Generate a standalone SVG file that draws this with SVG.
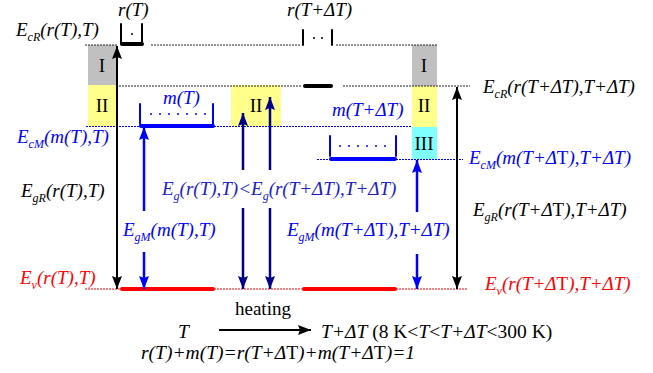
<svg xmlns="http://www.w3.org/2000/svg" width="653" height="373" viewBox="0 0 653 373">
<style>
text{font-family:"Liberation Serif","Times New Roman",serif;font-size:19px;font-style:italic}
.rm{font-style:normal}
.sub{font-size:12px}
.big{font-size:19.5px}
.k{fill:#000}
.b{fill:#0000ff}
.nv{fill:#1c1cc8}
.r{fill:#ff0000}
.dk{stroke:#222;stroke-width:1;stroke-dasharray:2 1;fill:none}
.db{stroke:#0000ff;stroke-width:1;stroke-dasharray:2 1;fill:none}
.dr{stroke:#ff0000;stroke-width:1;stroke-dasharray:2 1;fill:none}
.tk{stroke:#000;stroke-width:4;stroke-linecap:round}
.tb{stroke:#0000ff;stroke-width:4;stroke-linecap:round}
.tr{stroke:#ff0000;stroke-width:4;stroke-linecap:round}
.tick{stroke-width:2}
.box{stroke:none}
.ak{stroke:#000;stroke-width:2;fill:none}
.ab{stroke:#0000ff;stroke-width:2.5;fill:none}
.an{stroke:#00008b;stroke-width:2.5;fill:none}
</style>
<defs>
<marker id="mk" markerUnits="userSpaceOnUse" markerWidth="14" markerHeight="10" refX="13" refY="5" orient="auto-start-reverse"><path d="M0,0 L13,5 L0,10 L2,5 z" fill="#000"/></marker>
<marker id="mb" markerUnits="userSpaceOnUse" markerWidth="14" markerHeight="10" refX="13" refY="5" orient="auto-start-reverse"><path d="M0,0 L13,5 L0,10 L2,5 z" fill="#0000ff"/></marker>
<marker id="mn" markerUnits="userSpaceOnUse" markerWidth="14" markerHeight="10" refX="13" refY="5" orient="auto-start-reverse"><path d="M0,0 L13,5 L0,10 L2,5 z" fill="#00008b"/></marker>
</defs>

<g id="regions">
<rect class="box" x="88" y="45" width="28" height="40" fill="#c0c0c0"/>
<rect class="box" x="88" y="85" width="28" height="41" fill="#ffff8c"/>
<rect class="box" x="231" y="85" width="50" height="41" fill="#ffff8c"/>
<rect class="box" x="412" y="45" width="25" height="41" fill="#c0c0c0"/>
<rect class="box" x="412" y="86" width="25" height="41" fill="#ffff8c"/>
<rect class="box" x="412" y="127" width="25" height="32" fill="#80ffff"/>
<text class="rm k" x="102" y="72" text-anchor="middle">I</text>
<text class="rm k" x="102" y="112" text-anchor="middle">II</text>
<text class="rm k" x="256" y="112" text-anchor="middle">II</text>
<text class="rm k" x="424" y="72" text-anchor="middle">I</text>
<text class="rm k" x="424" y="112" text-anchor="middle">II</text>
<text class="rm k" x="424" y="150" text-anchor="middle">III</text>
</g>

<g id="levels">
<path class="dk" d="M85,45H118 M151,45H300 M336,45H437"/>
<path class="dk" d="M116,86H302 M343,86H470"/>
<path class="db" d="M86,126.5H140 M214,126.5H412"/>
<path class="db" d="M317,159.5H330 M396,159.5H463"/>
<path class="dr" d="M85,289H120 M214,289H302 M396,289H468"/>
<line class="tr" x1="122" y1="289" x2="213" y2="289"/>
<line class="tr" x1="304" y1="289" x2="395" y2="289"/>
</g>

<g id="rT">
<text class="k" x="118" y="16">r(T)</text>
<path class="tk tick" d="M121,24V44 M142,24V44"/>
<line class="tk" x1="122" y1="44" x2="142" y2="44"/>
<circle cx="132" cy="34" r="1" fill="#000"/>
</g>

<g id="rTdT">
<text class="k" x="287" y="16">r(T+ΔT)</text>
<path class="tk tick" d="M303,30V45 M332,30V45"/>
<circle cx="314" cy="38" r="1" fill="#000"/>
<circle cx="322" cy="38" r="1" fill="#000"/>
<line class="tk" x1="305" y1="86" x2="331" y2="86"/>
</g>

<g id="mT">
<text class="b" x="163" y="104">m(T)</text>
<path class="tb tick" d="M140,104V124 M213,104V124"/>
<line class="tb" x1="141" y1="126" x2="213" y2="126"/>
<g fill="#0000ff"><circle cx="151" cy="114" r="1"/><circle cx="160" cy="114" r="1"/><circle cx="169" cy="114" r="1"/><circle cx="178" cy="114" r="1"/><circle cx="187" cy="114" r="1"/><circle cx="196" cy="114" r="1"/><circle cx="205" cy="114" r="1"/></g>
</g>

<g id="mTdT">
<text class="b" x="332" y="116">m(T+ΔT)</text>
<path class="tb tick" d="M330,136V156 M396,136V156"/>
<line class="tb" x1="331" y1="159" x2="395" y2="159"/>
<g fill="#0000ff"><circle cx="340" cy="146" r="1"/><circle cx="349" cy="146" r="1"/><circle cx="358" cy="146" r="1"/><circle cx="367" cy="146" r="1"/><circle cx="376" cy="146" r="1"/><circle cx="385" cy="146" r="1"/></g>
</g>

<g id="labels">
<text class="k" x="16" y="36">E<tspan class="sub" dy="5">cR</tspan><tspan dy="-5">(r(T),T)</tspan></text>
<text class="k" x="483" y="93">E<tspan class="sub" dy="5">cR</tspan><tspan dy="-5">(r(T+ΔT),T+ΔT)</tspan></text>
<text class="b" x="17" y="143">E<tspan class="sub" dy="5">cM</tspan><tspan dy="-5">(m(T),T)</tspan></text>
<text class="b" x="469" y="164">E<tspan class="sub" dy="5">cM</tspan><tspan dy="-5">(m(T+Δ</tspan><tspan class="rm">T</tspan>),T+ΔT)</text>
<text class="k" x="21" y="197">E<tspan class="sub" dy="5">gR</tspan><tspan dy="-5">(r(T),T)</tspan></text>
<text class="k" x="473" y="216">E<tspan class="sub" dy="5">gR</tspan><tspan dy="-5">(r(T+Δ</tspan><tspan class="rm">T</tspan>),T+ΔT)</text>
<text class="nv" x="162" y="195">E<tspan class="sub" dy="5">g</tspan><tspan dy="-5">(r(T),T)&lt;E</tspan><tspan class="sub" dy="5">g</tspan><tspan dy="-5">(r(T+ΔT),T+ΔT)</tspan></text>
<text class="b" x="123" y="236">E<tspan class="sub" dy="5">gM</tspan><tspan dy="-5">(m(T),T)</tspan></text>
<text class="b" x="287" y="236">E<tspan class="sub" dy="5">gM</tspan><tspan dy="-5">(m(T+Δ</tspan><tspan class="rm">T</tspan>),T+ΔT)</text>
<text class="r" x="20" y="284">E<tspan class="sub" dy="5">v</tspan><tspan dy="-5">(r(T),T)</tspan></text>
<text class="r" x="485" y="290">E<tspan class="sub" dy="5">v</tspan><tspan dy="-5">(r(T+Δ</tspan><tspan class="rm">T</tspan>),T+ΔT)</text>
</g>

<g id="heating">
<text class="rm k" x="235" y="315">heating</text>
<text class="k big" x="178" y="338">T</text>
<text class="k big" x="321" y="338">T+ΔT<tspan class="rm"> (8 K&lt;</tspan>T<tspan class="rm">&lt;</tspan>T+ΔT<tspan class="rm">&lt;300 K)</tspan></text>
<text class="k big" x="141" y="359">r(T)+m(T)=r(T+Δ<tspan class="rm">T</tspan>)+m(T+Δ<tspan class="rm">T</tspan>)=1</text>
</g>

<g id="connectors">
<line class="ak" x1="117" y1="46" x2="117" y2="289" marker-start="url(#mk)" marker-end="url(#mk)"/>
<line class="ak" x1="457" y1="87" x2="457" y2="289" marker-start="url(#mk)" marker-end="url(#mk)"/>
<line class="ab" x1="144" y1="211" x2="144" y2="127" marker-end="url(#mb)"/>
<line class="ab" x1="144" y1="252" x2="144" y2="289" marker-end="url(#mb)"/>
<line class="ab" x1="417" y1="212" x2="417" y2="160" marker-end="url(#mb)"/>
<line class="ab" x1="417" y1="254" x2="417" y2="289" marker-end="url(#mb)"/>
<line class="an" x1="243" y1="170" x2="243" y2="113" marker-end="url(#mn)"/>
<line class="an" x1="243" y1="208" x2="243" y2="289" marker-end="url(#mn)"/>
<line class="an" x1="270" y1="170" x2="270" y2="97" marker-end="url(#mn)"/>
<line class="an" x1="270" y1="208" x2="270" y2="289" marker-end="url(#mn)"/>
<line class="ak" x1="219" y1="330" x2="311" y2="330" marker-end="url(#mk)"/>
</g>
</svg>
